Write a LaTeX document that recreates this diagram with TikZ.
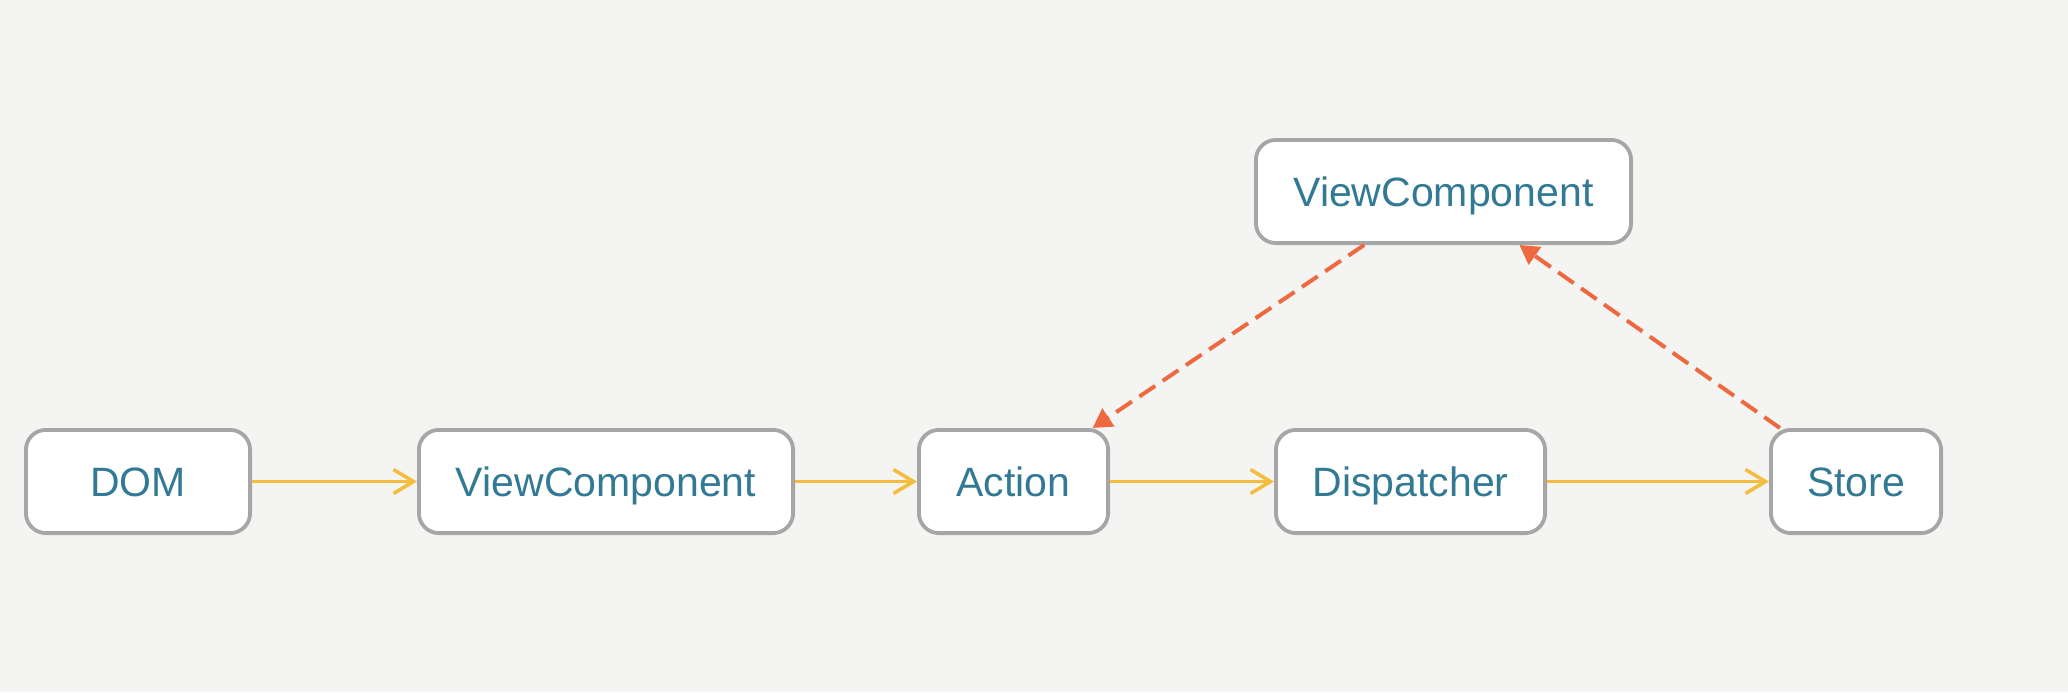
\documentclass[tikz,border=0pt]{standalone}
\usepackage{fontspec}
\setmainfont{Liberation Sans}
\usepackage{xcolor}
\usetikzlibrary{arrows.meta}
\definecolor{bgcol}{HTML}{F4F5F2}
\definecolor{boxline}{HTML}{A6A6A6}
\definecolor{boxtext}{HTML}{327A94}
\definecolor{flowcol}{HTML}{F5BD40}
\definecolor{backcol}{HTML}{EE6940}

\begin{document}
\begin{tikzpicture}[x=0.5pt,y=-0.5pt,
    box/.style={draw=boxline,fill=white,line width=1.9pt,rounded corners=10pt,
      minimum height=51.6pt,inner sep=0pt,text height=14.7pt,text depth=0pt,
      text=boxtext,font=\fontsize{20.5}{24}\selectfont},
    flow/.style={draw=flowcol,line width=1.8pt,-{Straight Barb[length=10pt,width=12pt]}},
    back/.style={draw=backcol,line width=2pt,dash pattern=on 9.5pt off 4.5pt,
      -{Triangle[length=9.5pt,width=10.5pt]}}]
    %
    \path[use as bounding box,fill=bgcol] (0,0) rectangle (2068,692);
    %
    \node[box,minimum width=112.1pt] (dom) at (138,481.5) {DOM};
    \node[box,minimum width=187.1pt] (view) at (606,481.5) {ViewComponent};
    \node[box,minimum width=94.6pt] (action) at (1013.5,481.5) {Action};
    \node[box,minimum width=134.6pt] (disp) at (1410.5,481.5) {Dispatcher};
    \node[box,minimum width=85.1pt] (store) at (1856,481.5) {Store};

    \node[box,minimum width=187.6pt] (view2) at (1443.5,191.5) {ViewComponent};
    %
    \draw[flow] (dom) -- (view);
    \draw[flow] (view) -- (action);
    \draw[flow] (action) -- (disp);
    \draw[flow] (disp) -- (store);

    \draw[back] (view2) -- (action);
    \draw[back] (store) -- (view2);
    %
\end{tikzpicture}
\end{document}
